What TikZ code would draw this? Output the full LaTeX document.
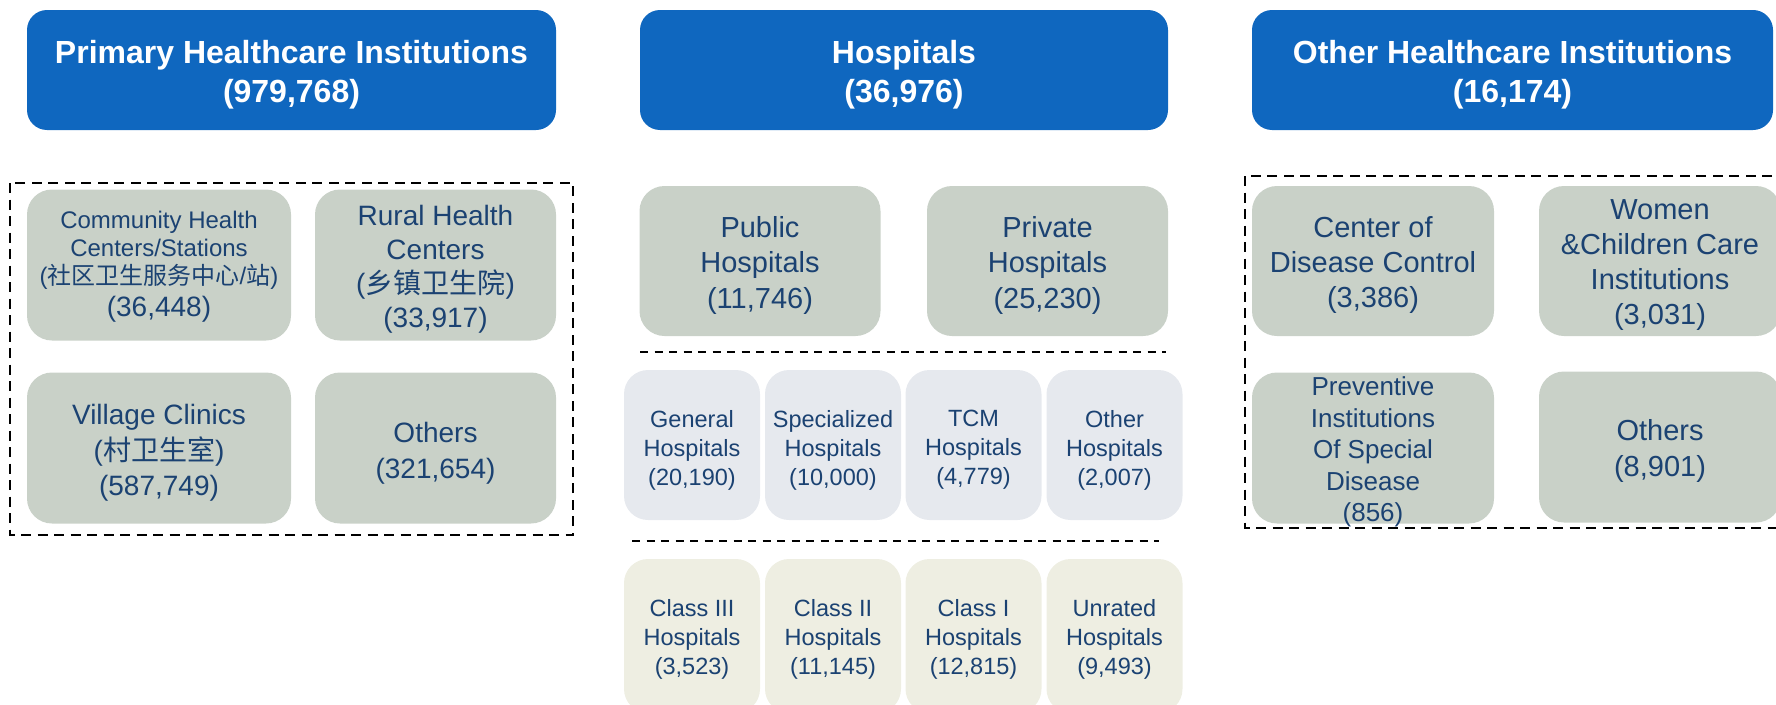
\documentclass[tikz,border=0pt]{standalone}
\usepackage{fontspec}
\setmainfont{Liberation Sans}
\newfontfamily\cjk{Noto Sans CJK SC}
\definecolor{hdrblue}{RGB}{15,103,191}
\definecolor{graybox}{RGB}{201,209,200}
\definecolor{lightbox}{RGB}{230,233,238}
\definecolor{beigebox}{RGB}{238,238,226}
\definecolor{txt}{RGB}{27,66,114}
\newcommand{\fsz}[2]{\fontsize{#1}{#2}\selectfont}
\begin{document}
\begin{tikzpicture}[x=1pt,y=-1pt,
  hdr/.style={fill=hdrblue, rounded corners=20pt, inner sep=0pt, minimum height=120pt},
  hdrtxt/.style={text=white, font=\fsz{32}{39}\bfseries, align=center, inner sep=0pt},
  gbox/.style={fill=graybox, rounded corners=25pt, inner sep=0pt, minimum height=151pt},
  lbox/.style={fill=lightbox, rounded corners=24pt, inner sep=0pt, minimum width=136pt, minimum height=150pt},
  bbox/.style={fill=beigebox, rounded corners=24pt, inner sep=0pt, minimum width=136pt, minimum height=154pt},
  btxt/.style={text=txt, align=center, inner sep=0pt},
  smalltxt/.style={btxt, font=\fsz{23.5}{29}},
  frame/.style={draw=black, line width=2.6pt, dash pattern=on 10pt off 6.5pt},
  sep/.style={draw=black, line width=2.4pt, dash pattern=on 8pt off 6.5pt}
]
\useasboundingbox (0,0) rectangle (1776,704);
\clip (0,0) rectangle (1776,704);

% headers
\node[hdr, minimum width=529pt] (h1) at (291.5,70) {};
\node[hdrtxt] (h1t) at ([yshift=-5pt]h1.center) {Primary Healthcare Institutions\\(979,768)};
\node[hdr, minimum width=528pt] (h2) at (904,70) {};
\node[hdrtxt] (h2t) at ([yshift=-5pt]h2.center) {Hospitals\\(36,976)};
\node[hdr, minimum width=521pt] (h3) at (1512.5,70) {};
\node[hdrtxt] (h3t) at ([yshift=-5pt]h3.center) {Other Healthcare Institutions\\(16,174)};

% primary section
\coordinate (pf1) at (10,183);
\coordinate (pf2) at (573,535);
\draw[frame] (pf1) rectangle (pf2);
\node[gbox, minimum width=264pt] (comm) at (159,265) {};
\node[btxt, font=\fsz{24}{27.7}] (commt) at ([yshift=-2pt]comm.center)
  {Community Health\\Centers/Stations\\({\cjk 社区卫生服务中心}/{\cjk 站})\\[5pt]{\fsz{28}{33}(36,448)}};
\node[gbox, minimum width=241pt] (rural) at (435.5,265) {};
\node[btxt, font=\fsz{28}{34}] (ruralt) at ([yshift=-4pt]rural.center)
  {Rural Health\\Centers\\({\cjk 乡镇卫生院})\\(33,917)};
\node[gbox, minimum width=264pt] (village) at (159,448) {};
\node[btxt, font=\fsz{28}{35.5}] (villaget) at ([yshift=-5pt]village.center)
  {Village Clinics\\({\cjk 村卫生室})\\(587,749)};
\node[gbox, minimum width=241pt] (pothers) at (435.5,448) {};
\node[btxt, font=\fsz{28}{35.5}] (potherst) at ([yshift=-5pt]pothers.center)
  {Others\\(321,654)};

% hospitals section
\node[gbox, minimum width=241pt, minimum height=150pt] (public) at (760,261) {};
\node[btxt, font=\fsz{29}{35.5}] (publict) at ([yshift=-4pt]public.center) {Public\\Hospitals\\(11,746)};
\node[gbox, minimum width=241pt, minimum height=150pt] (private) at (1047.5,261) {};
\node[btxt, font=\fsz{29}{35.5}] (privatet) at ([yshift=-4pt]private.center) {Private\\Hospitals\\(25,230)};
\coordinate (s1a) at (640,352);
\coordinate (s1b) at (1166,352);
\draw[sep] (s1a) -- (s1b);
\node[lbox] (general) at (692,445) {};
\node[smalltxt] (generalt) at ([yshift=-5pt]general.center) {General\\Hospitals\\(20,190)};
\node[lbox] (special) at (833,445) {};
\node[smalltxt] (specialt) at ([yshift=-5pt]special.center) {Specialized\\Hospitals\\(10,000)};
\node[lbox] (tcm) at (973.5,445) {};
\node[smalltxt] (tcmt) at ([yshift=-5pt]tcm.center) {TCM\\Hospitals\\(4,779)};
\node[lbox] (otherh) at (1114.5,445) {};
\node[smalltxt] (otherht) at ([yshift=-5pt]otherh.center) {Other\\Hospitals\\(2,007)};
\coordinate (s2a) at (632,541);
\coordinate (s2b) at (1159,541);
\draw[sep] (s2a) -- (s2b);
\node[bbox] (c3) at (692,636) {};
\node[smalltxt] (c3t) at ([yshift=-3pt]c3.center) {Class III\\Hospitals\\(3,523)};
\node[bbox] (c2) at (833,636) {};
\node[smalltxt] (c2t) at ([yshift=-3pt]c2.center) {Class II\\Hospitals\\(11,145)};
\node[bbox] (c1) at (973.5,636) {};
\node[smalltxt] (c1t) at ([yshift=-3pt]c1.center) {Class I\\Hospitals\\(12,815)};
\node[bbox] (unr) at (1114.5,636) {};
\node[smalltxt] (unrt) at ([yshift=-3pt]unr.center) {Unrated\\Hospitals\\(9,493)};

% other section
\coordinate (of1) at (1245,176);
\coordinate (of2) at (1800,528);
\draw[frame] (of1) rectangle (of2);
\node[gbox, minimum width=242pt, minimum height=150pt] (cdc) at (1373,261) {};
\node[btxt, font=\fsz{29}{35}] (cdct) at ([yshift=-4pt]cdc.center) {Center of\\Disease Control\\(3,386)};
\node[gbox, minimum width=242pt, minimum height=150pt] (women) at (1660,261) {};
\node[btxt, font=\fsz{29}{35}] (woment) at ([yshift=-4pt]women.center) {Women\\\&Children Care\\Institutions\\(3,031)};
\node[gbox, minimum width=242pt] (prev) at (1373,448) {};
\node[btxt, font=\fsz{26}{31.6}] (prevt) at ([yshift=-4pt]prev.center) {Preventive\\Institutions\\Of Special\\Disease\\(856)};
\node[gbox, minimum width=242pt] (oothers) at (1660,447) {};
\node[btxt, font=\fsz{29}{36}] (oothert) at ([yshift=-4pt]oothers.center) {Others\\(8,901)};
\end{tikzpicture}
\end{document}
